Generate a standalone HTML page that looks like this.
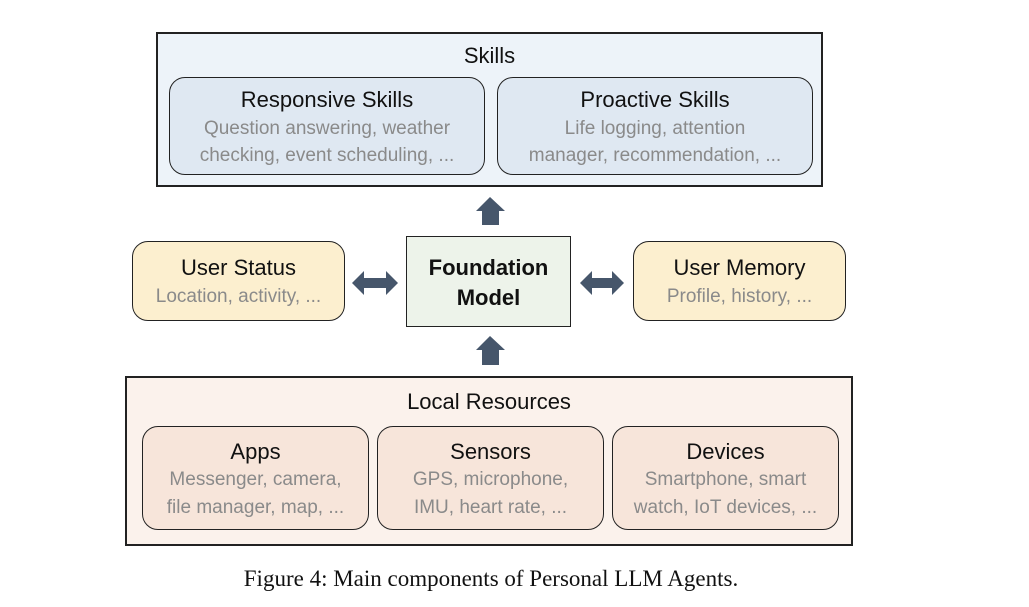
<!DOCTYPE html>
<html><head><meta charset="utf-8"><style>
body{margin:0;width:1029px;height:607px;background:#fff;position:relative;overflow:hidden;font-family:"Liberation Sans",sans-serif}
.b{position:absolute;box-sizing:border-box;border:1.5px solid #222;text-align:center}
.r{border-radius:16px}
.t{font-size:22px;color:#111;line-height:26px}
.s{font-size:19px;color:#8a8a8a;line-height:27px;white-space:nowrap}
svg{position:absolute;left:0;top:0}
</style></head><body>
<div class="b" style="left:156px;top:32px;width:667px;height:155px;background:#edf3f9;border-width:2px">
<div class="t" style="margin-top:9px">Skills</div></div>
<div class="b r" style="left:169px;top:77px;width:316px;height:98px;background:#dfe8f2">
<div class="t" style="margin-top:9px">Responsive Skills</div>
<div class="s" style="margin-top:2px">Question answering, weather<br>checking, event scheduling, ...</div></div>
<div class="b r" style="left:497px;top:77px;width:316px;height:98px;background:#dfe8f2">
<div class="t" style="margin-top:9px">Proactive Skills</div>
<div class="s" style="margin-top:2px">Life logging, attention<br>manager, recommendation, ...</div></div>

<div class="b r" style="left:132px;top:241px;width:213px;height:80px;background:#fcefcf">
<div class="t" style="margin-top:13px">User Status</div>
<div class="s" style="margin-top:2px">Location, activity, ...</div></div>
<div class="b" style="left:406px;top:236px;width:165px;height:91px;background:#edf3ea">
<div class="t" style="margin-top:16px;font-weight:bold;line-height:30px">Foundation<br>Model</div></div>
<div class="b r" style="left:633px;top:241px;width:213px;height:80px;background:#fcefcf">
<div class="t" style="margin-top:13px">User Memory</div>
<div class="s" style="margin-top:2px">Profile, history, ...</div></div>

<div class="b" style="left:125px;top:376px;width:728px;height:170px;background:#fbf2ec;border-width:2px">
<div class="t" style="margin-top:11px">Local Resources</div></div>
<div class="b r" style="left:142px;top:426px;width:227px;height:104px;background:#f7e5da">
<div class="t" style="margin-top:12px">Apps</div>
<div class="s" style="line-height:28px;margin-top:1px">Messenger, camera,<br>file manager, map, ...</div></div>
<div class="b r" style="left:377px;top:426px;width:227px;height:104px;background:#f7e5da">
<div class="t" style="margin-top:12px">Sensors</div>
<div class="s" style="line-height:28px;margin-top:1px">GPS, microphone,<br>IMU, heart rate, ...</div></div>
<div class="b r" style="left:612px;top:426px;width:227px;height:104px;background:#f7e5da">
<div class="t" style="margin-top:12px">Devices</div>
<div class="s" style="line-height:28px;margin-top:1px">Smartphone, smart<br>watch, IoT devices, ...</div></div>

<svg width="1029" height="607">
<g fill="#46566b">
<polygon points="490,197 505,211 499,211 499,225 482,225 482,211 476,211"/>
<polygon points="490,336 505,350 499,350 499,365 482,365 482,350 476,350"/>
<polygon points="352,283 364,271 364,278 386,278 386,271 398,283 386,295 386,288 364,288 364,295"/>
<polygon points="580,283 592,271 592,278 612,278 612,271 624,283 612,295 612,288 592,288 592,295"/>
</g></svg>
<div style="position:absolute;left:0;width:982px;top:566px;text-align:center;font-family:'Liberation Serif',serif;font-size:23px;color:#111">Figure 4: Main components of Personal LLM Agents.</div>
</body></html>
